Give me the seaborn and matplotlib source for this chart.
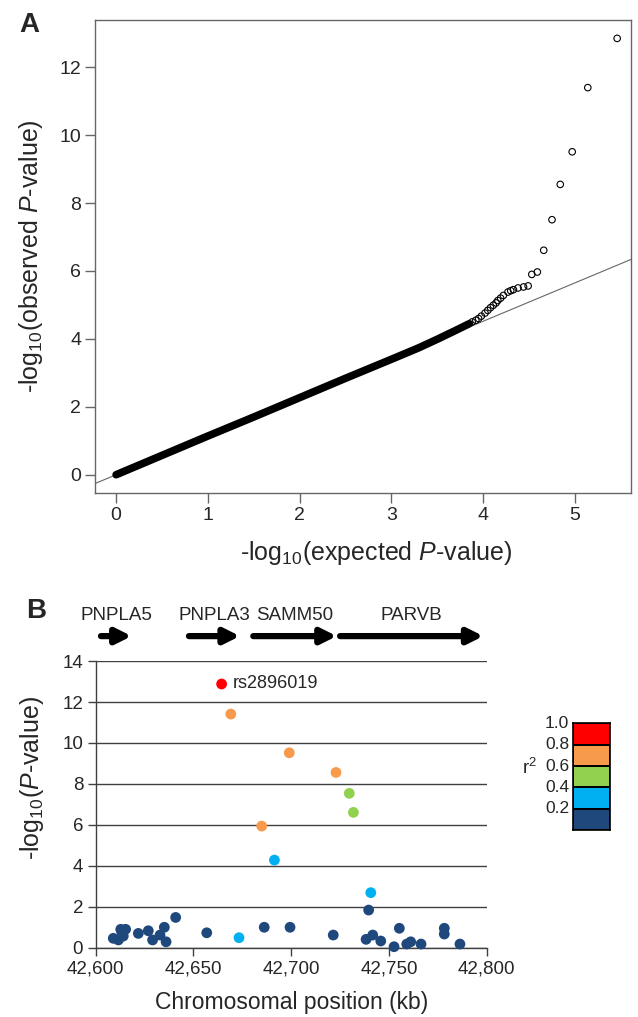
import numpy as np
import pandas as pd
import matplotlib
matplotlib.use("Agg")
import matplotlib.pyplot as plt
import matplotlib.transforms as mtransforms
from matplotlib.colors import ListedColormap
import seaborn as sns

# ---- panel A: QQ plot ----
# dense part of the QQ curve (thick black band)
qq_dense_x = [0.0, 0.5, 1.0, 1.5, 2.0, 2.5, 3.0, 3.3, 3.5, 3.7, 3.85]
qq_dense_y = [0.0, 0.57, 1.14, 1.70, 2.27, 2.84, 3.40, 3.74, 3.99, 4.25, 4.45]
# sparse tail (open circles)
qq_tail_x = [3.88, 3.92, 3.95, 3.98, 4.02, 4.05, 4.08, 4.11, 4.14, 4.16, 4.19, 4.22,
             4.27, 4.30, 4.33, 4.38, 4.44, 4.49, 4.53, 4.59, 4.66, 4.75, 4.84, 4.97,
             5.14, 5.46]
qq_tail_y = [4.50, 4.55, 4.60, 4.67, 4.76, 4.84, 4.92, 4.99, 5.06, 5.13, 5.20, 5.28,
             5.38, 5.42, 5.45, 5.50, 5.53, 5.56, 5.90, 5.97, 6.61, 7.51, 8.55, 9.51,
             11.40, 12.85]
qq_line_slope = 1.13

# ---- panel B: regional association ----
snp_pos = [42664.4, 42669.1, 42699.0, 42722.9, 42729.7, 42731.8, 42684.9, 42691.4,
           42740.7, 42673.3,
           42739.6, 42609.0, 42611.6, 42613.3, 42614.1, 42615.3, 42612.8, 42621.8,
           42626.9, 42629.1, 42632.9, 42635.1, 42636.0, 42640.9, 42656.8, 42686.2,
           42699.4, 42721.5, 42738.3, 42741.7, 42745.8, 42752.6, 42755.3, 42759.1,
           42761.1, 42766.4, 42778.3, 42778.3, 42786.3]
snp_logp = [12.88, 11.41, 9.52, 8.56, 7.54, 6.61, 5.94, 4.28,
            2.69, 0.49,
            1.84, 0.46, 0.38, 0.78, 0.57, 0.90, 0.90, 0.70,
            0.83, 0.38, 0.62, 1.00, 0.29, 1.48, 0.73, 1.00,
            1.00, 0.62, 0.41, 0.62, 0.33, 0.05, 0.95, 0.18,
            0.29, 0.18, 0.95, 0.67, 0.18]
snp_ld = ["1.0", "0.8", "0.8", "0.8", "0.6", "0.6", "0.8", "0.4",
          "0.4", "0.4"] + ["0.2"] * 29
lead_snp = "rs2896019"

ld_bins = ["1.0", "0.8", "0.6", "0.4", "0.2"]
ld_colors = ["#FF0000", "#F79A4B", "#92D050", "#00B0F0", "#1F497D"]

genes = ["PNPLA5", "PNPLA3", "SAMM50", "PARVB"]
gene_start = [42602.7, 42647.7, 42680.6, 42725.0]
gene_end = [42618.4, 42673.8, 42723.3, 42798.3]

sns.set_style("white")
plt.rcParams["font.family"] = ["Liberation Sans", "DejaVu Sans"]
plt.rcParams["mathtext.fontset"] = "custom"
plt.rcParams["mathtext.rm"] = "Liberation Sans"
plt.rcParams["mathtext.it"] = "Liberation Sans:italic"

fig = plt.figure(figsize=(6.38, 10.17), dpi=100)

# ---------------- A ----------------
axA = fig.add_axes([0.1489, 0.5155, 0.840, 0.4648])
axA.axline((0, 0), slope=qq_line_slope, color="#666666", lw=0.8, zorder=1)
sns.lineplot(x=qq_dense_x, y=qq_dense_y, ax=axA, color="black", lw=5.5,
             sort=False, solid_capstyle="round", solid_joinstyle="round", zorder=2)
sns.scatterplot(x=qq_tail_x, y=qq_tail_y, ax=axA, s=22, facecolor="none",
                edgecolor="black", linewidth=0.8, zorder=3)
axA.set_xlim(-0.23, 5.61)
axA.set_ylim(-0.53, 13.39)
axA.set_xticks(range(0, 6))
axA.set_yticks(range(0, 13, 2))
for sp in axA.spines.values():
    sp.set_visible(True)
    sp.set_color("#666666")
    sp.set_linewidth(1.0)
axA.tick_params(axis="both", direction="out", length=7, width=1.0,
                color="#666666", labelsize=14, pad=3, bottom=True, left=True)
axA.set_xlabel("-log$_{10}$(expected $P$-value)", fontsize=18)
axA.set_ylabel("-log$_{10}$(observed $P$-value)", fontsize=18, labelpad=10)
axA.xaxis.set_label_coords(0.524, -0.098)
fig.text(29 / 638, 1 - 25 / 1017, "A", fontsize=20, fontweight="bold",
         ha="center", va="center")

# ---------------- B ----------------
axB = fig.add_axes([0.150, 0.0681, 0.6129, 0.2819])
df = pd.DataFrame({"pos": snp_pos, "logp": snp_logp, "ld": snp_ld})
sns.scatterplot(data=df, x="pos", y="logp", hue="ld", hue_order=ld_bins,
                palette=dict(zip(ld_bins, ld_colors)), s=60, edgecolor="none",
                legend=False, ax=axB, zorder=3, clip_on=False)
axB.set_xlim(42600, 42800)
axB.set_ylim(0, 14)
axB.set_xticks(range(42600, 42801, 50))
axB.set_xticklabels([f"{v:,}" for v in range(42600, 42801, 50)])
axB.set_yticks(range(0, 15, 2))
axB.yaxis.grid(True, color="#404040", lw=1.0)
axB.set_axisbelow(True)
for s in ["top", "right"]:
    axB.spines[s].set_visible(False)
for s in ["left", "bottom"]:
    axB.spines[s].set_color("#404040")
    axB.spines[s].set_linewidth(1.0)
axB.tick_params(axis="both", direction="out", length=6, width=1.0,
                color="#404040", labelsize=13.5, pad=3, bottom=True, left=True)
axB.set_xlabel("Chromosomal position (kb)", fontsize=16.5)
axB.set_ylabel("-log$_{10}$($P$-value)", fontsize=18)
axB.xaxis.set_label_coords(0.5, -0.152)
axB.yaxis.set_label_coords(-0.127, 0.592)

lead_i = snp_ld.index("1.0")
axB.annotate(lead_snp, (snp_pos[lead_i], snp_logp[lead_i]),
             xytext=(8, 0), textcoords="offset points", va="center", fontsize=13)

trans = mtransforms.blended_transform_factory(axB.transData, axB.transAxes)
for g, a, b in zip(genes, gene_start, gene_end):
    axB.annotate("", xy=(b, 1.087), xytext=(a, 1.087), xycoords=trans,
                 textcoords=trans, annotation_clip=False,
                 arrowprops=dict(arrowstyle="-|>,head_length=0.9,head_width=0.45",
                                 lw=4.5, color="black", shrinkA=0, shrinkB=0))
    axB.text((a + b) / 2, 1.16, g, transform=trans, ha="center", va="center",
             fontsize=13.5)
fig.text(36 / 638, 1 - 611 / 1017, "B", fontsize=20, fontweight="bold",
         ha="center", va="center")

# ---------------- r2 legend ----------------
axL = fig.add_axes([0.8986, 0.1836, 0.0575, 0.1052])
sns.heatmap(np.arange(len(ld_bins)).reshape(-1, 1), cmap=ListedColormap(ld_colors),
            cbar=False, linewidths=1.2, linecolor="black", ax=axL)
axL.set_xticks([])
axL.set_yticks(range(len(ld_bins)))
axL.set_yticklabels(ld_bins, rotation=0, fontsize=12.5)
axL.tick_params(axis="y", length=0, pad=3)
for sp in axL.spines.values():
    sp.set_visible(True)
    sp.set_color("black")
    sp.set_linewidth(1.2)
fig.text(530 / 638, 1 - 768 / 1017, "r$^2$", fontsize=13.5, ha="center", va="center")

fig.savefig("out.png", dpi=100)
